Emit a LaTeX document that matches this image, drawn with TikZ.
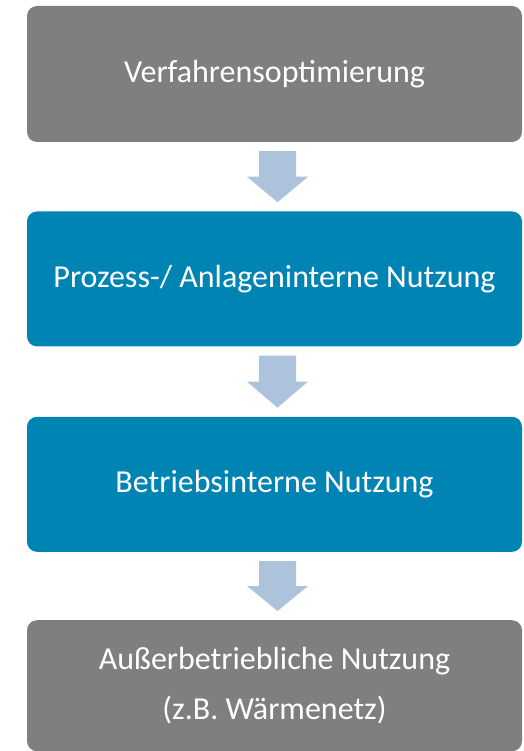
\documentclass[tikz,border=0pt]{standalone}
\usepackage{fontspec}
\setmainfont{Carlito}
\usepackage{tikz}
\usetikzlibrary{positioning,calc}
\definecolor{greybox}{HTML}{7F7F7F}
\definecolor{bluebox}{HTML}{0084B4}
\definecolor{flowarrow}{HTML}{ADC2DB}
\tikzset{
  stage/.style = {rounded corners=10pt, fill=greybox, text=white, align=center,
                  minimum width=495pt, minimum height=136pt, inner sep=0pt,
                  font=\fontsize{32}{50}\selectfont},
  bstage/.style = {stage, fill=bluebox},
  flow/.style  = {fill=flowarrow},
}

\begin{document}
\begin{tikzpicture}[x=1pt, y=1pt, node distance=69pt]
  \useasboundingbox (0,0) rectangle (523,-751);
  \node[stage] (opt) at (274.5,-74) {Verfahrensoptimierung};
  \node[bstage, below=of opt, minimum height=135pt] (proc) {Prozess-/ Anlageninterne Nutzung};
  \node[bstage, below=70pt of proc, minimum height=135pt] (plant) {Betriebsinterne Nutzung};
  \node[stage, below=68pt of plant, minimum height=131pt] (ext) {Außerbetriebliche Nutzung\\(z.B. Wärmenetz)};
  % block arrows between the stages
  \foreach \a/\b in {opt/proc, proc/plant, plant/ext} {
    \coordinate (mid) at ($(\a.south)!0.5!(\b.north)+(3,0)$);
    \fill[flow] ($(\a.south)+(-15.5,-9)$) -- ($(\a.south)+(21.5,-9)$)
      -- ($(mid)+(18.5,0)$) -- ($(mid)+(30.5,0)$) -- ($(\b.north)+(3,9)$)
      -- ($(mid)+(-30.5,0)$) -- ($(mid)+(-18.5,0)$) -- cycle;
  }
\end{tikzpicture}
\end{document}
